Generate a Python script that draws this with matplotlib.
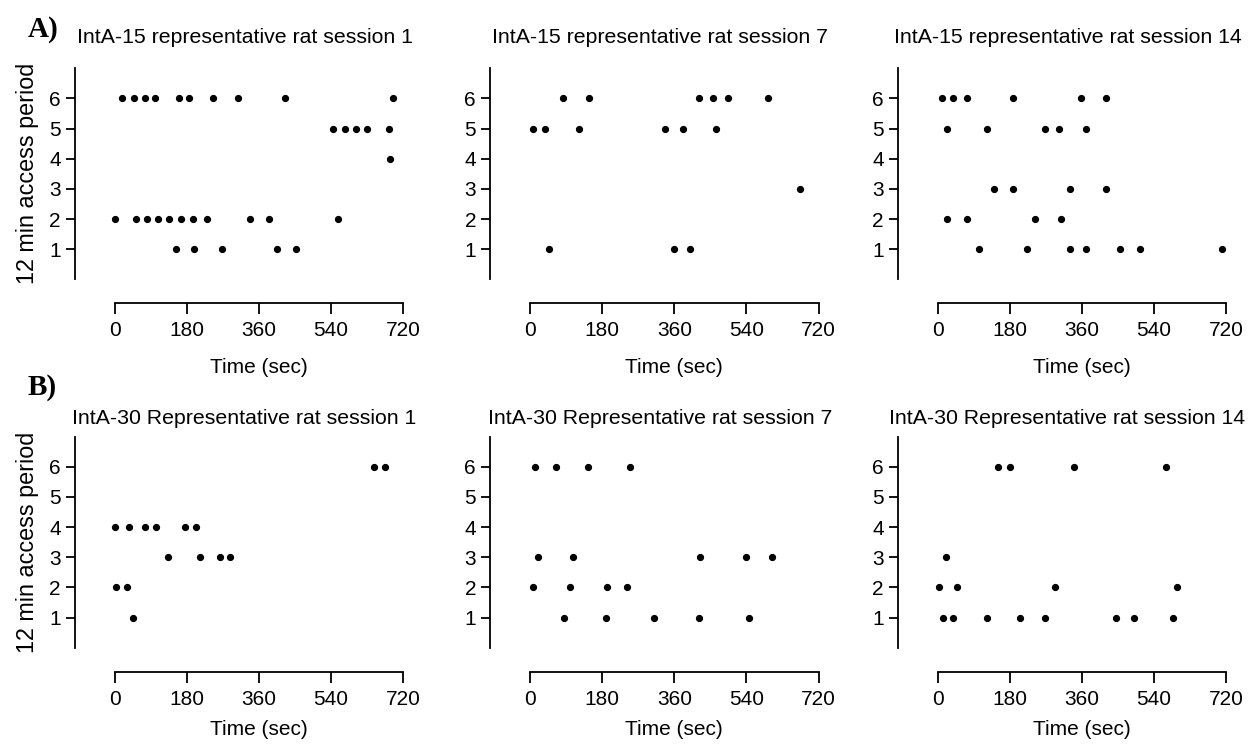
import matplotlib
matplotlib.use("Agg")
import matplotlib.pyplot as plt

plt.rcParams["font.family"] = ["Liberation Sans", "DejaVu Sans"]

# Infusion times (sec) and the 12 min access period they fall in
a15_s1_time = [18, 47, 75, 101, 160, 186, 246, 308, 424, 694,
               545, 575, 603, 629, 684,
               687,
               0, 52, 81, 109, 136, 165, 196, 230, 338, 385, 557,
               153, 198, 269, 406, 452]
a15_s1_period = [6] * 10 + [5] * 5 + [4] + [2] * 11 + [1] * 5

a15_s7_time = [82, 146, 421, 457, 494, 594,
               8, 38, 122, 338, 383, 465,
               675,
               47, 360, 399]
a15_s7_period = [6] * 6 + [5] * 6 + [3] + [1] * 3

a15_s14_time = [11, 38, 73, 188, 358, 419,
                22, 124, 268, 303, 370,
                140, 187, 329, 419,
                22, 72, 243, 308,
                104, 224, 330, 370, 455, 506, 710]
a15_s14_period = [6] * 6 + [5] * 5 + [3] * 4 + [2] * 4 + [1] * 7

a30_s1_time = [648, 674,
               1, 35, 76, 102, 175, 203,
               132, 212, 262, 288,
               2, 30,
               46]
a30_s1_period = [6] * 2 + [4] * 6 + [3] * 4 + [2] * 2 + [1]

a30_s7_time = [12, 66, 145, 250,
               19, 107, 424, 539, 604,
               8, 100, 191, 243,
               86, 190, 310, 421, 547]
a30_s7_period = [6] * 4 + [3] * 5 + [2] * 4 + [1] * 5

a30_s14_time = [151, 181, 339, 571,
                20,
                3, 47, 293, 598,
                12, 38, 123, 206, 269, 444, 491, 587]
a30_s14_period = [6] * 4 + [3] + [2] * 4 + [1] * 8

titles_a = ["IntA-15 representative rat session 1",
            "IntA-15 representative rat session 7",
            "IntA-15 representative rat session 14"]
titles_b = ["IntA-30 Representative rat session 1",
            "IntA-30 Representative rat session 7",
            "IntA-30 Representative rat session 14"]
x_ticks = [0, 180, 360, 540, 720]
y_ticks = [1, 2, 3, 4, 5, 6]

W, H = 1254, 749
fig = plt.figure(figsize=(W / 100, H / 100), dpi=100)

lefts = [114.7, 530, 937.7]
width = 288.5
height = 211
rows = [
    # (y of value 0 in px, title pad, xlabel pad, titles, panels)
    (279.3, 18, 13, titles_a,
     [(a15_s1_time, a15_s1_period), (a15_s7_time, a15_s7_period),
      (a15_s14_time, a15_s14_period)]),
    (647.7, 9, 8, titles_b,
     [(a30_s1_time, a30_s1_period), (a30_s7_time, a30_s7_period),
      (a30_s14_time, a30_s14_period)]),
]

for y0, tpad, xpad, titles, panels in rows:
    for i, (left, title, (t, p)) in enumerate(zip(lefts, titles, panels)):
        ax = fig.add_axes([left / W, 1 - y0 / H, width / W, height / H])
        ax.plot(t, p, "o", color="black", ms=4.2, clip_on=False)
        ax.set_xlim(0, 720)
        ax.set_ylim(0, 7)
        ax.set_xticks(x_ticks)
        ax.set_yticks(y_ticks)
        for side in ["top", "right"]:
            ax.spines[side].set_visible(False)
        ax.spines["left"].set_position(("outward", 28.8))
        ax.spines["bottom"].set_position(("outward", 17.3))
        for side in ["left", "bottom"]:
            ax.spines[side].set_linewidth(1.3)
        ax.tick_params(axis="x", length=8, width=1.3, pad=5, labelsize=15)
        ax.tick_params(axis="y", length=6.5, width=1.3, pad=3.5, labelsize=15)
        ax.set_xlabel("Time (sec)", fontsize=15, labelpad=xpad)
        if i == 0:
            ax.set_ylabel("12 min access period", fontsize=16.8, labelpad=7)
        ax.set_title(title, fontsize=15.3, pad=tpad, x=0.45)

fig.text(28 / W, 1 - 37 / H, "A)", family="Liberation Serif",
         fontweight="bold", fontsize=21)
fig.text(28 / W, 1 - 395 / H, "B)", family="Liberation Serif",
         fontweight="bold", fontsize=21)

fig.savefig("out.png", dpi=100)
